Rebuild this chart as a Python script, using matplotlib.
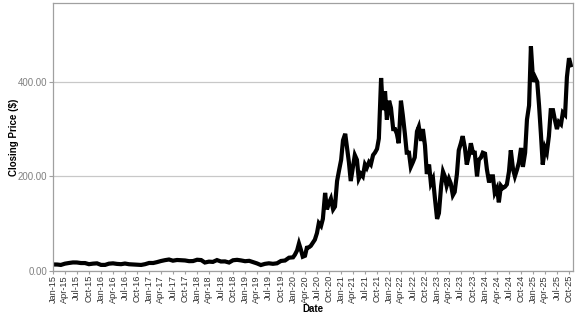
import matplotlib
matplotlib.use("Agg")
import matplotlib.pyplot as plt
import matplotlib.dates as mdates
import numpy as np
import pandas as pd

# monthly closes 2015-2019
early_prices = [
    13.6, 13.5, 12.6, 15.3, 16.7, 17.9, 17.8, 16.6, 16.6, 14.2, 15.4, 16.0,
    12.7, 12.7, 15.3, 16.0, 14.8, 14.2, 15.6, 14.1, 13.6, 13.2, 12.6, 14.2,
    16.8, 16.7, 18.5, 20.9, 22.7, 24.1, 21.6, 23.1, 22.7, 22.1, 20.6, 20.8,
    23.6, 22.9, 17.7, 19.6, 19.0, 22.9, 19.9, 20.1, 17.7, 22.5, 23.4, 22.2,
    20.5, 21.3, 18.7, 15.9, 12.4, 14.9, 16.1, 15.0, 16.1, 21.0, 22.0, 27.9,
]

# twice a month 2020 - Oct 2025
late_prices = [
    # 2020
    28.7, 34.2, 43.4, 58.0, 44.5, 30.0, 32.0, 49.0, 50.0, 53.0, 60.0, 66.0,
    80.0, 101.0, 95.0, 110.0, 165.0, 130.0, 144.0, 153.0, 130.0, 136.0, 190.0, 211.0,
    # 2021
    235.0, 276.0, 290.0, 260.0, 230.0, 190.0, 220.0, 245.0, 235.0, 195.0, 205.0, 200.0,
    225.0, 218.0, 230.0, 225.0, 245.0, 250.0, 258.0, 280.0, 408.0, 340.0, 380.0, 320.0,
    # 2022
    360.0, 345.0, 300.0, 300.0, 290.0, 270.0, 360.0, 330.0, 290.0, 250.0, 250.0, 220.0,
    230.0, 240.0, 295.0, 305.0, 275.0, 300.0, 265.0, 205.0, 225.0, 185.0, 195.0, 155.0,
    # 2023
    110.0, 122.0, 180.0, 210.0, 200.0, 180.0, 195.0, 185.0, 160.0, 167.0, 205.0, 255.0,
    270.0, 285.0, 260.0, 225.0, 245.0, 270.0, 250.0, 250.0, 200.0, 235.0, 240.0, 250.0,
    # 2024
    248.0, 215.0, 187.0, 200.0, 200.0, 165.0, 175.0, 145.0, 180.0, 175.0, 178.0, 183.0,
    210.0, 255.0, 215.0, 200.0, 215.0, 230.0, 260.0, 220.0, 250.0, 320.0, 350.0, 475.0,
    # 2025
    400.0, 410.0, 400.0, 350.0, 290.0, 225.0, 260.0, 250.0, 285.0, 340.0, 340.0, 320.0,
    300.0, 315.0, 310.0, 335.0, 330.0, 410.0, 450.0, 435.0,
]

early_dates = pd.date_range("2015-01-01", periods=len(early_prices), freq="MS")
late_dates = pd.date_range("2020-01-01", periods=len(late_prices), freq="SMS")
dates = list(early_dates) + list(late_dates)
prices = early_prices + late_prices

tick_dates = pd.date_range("2015-01-01", "2025-10-01", freq="QS-JAN")

fig = plt.figure(figsize=(5.77, 3.15), dpi=100)
ax = fig.add_axes([0.092, 0.14, 0.901, 0.851])

ax.plot(dates, prices, color="black", linewidth=3.0, solid_joinstyle="miter")

ax.set_xlim(pd.Timestamp("2015-01-01"), pd.Timestamp("2025-10-31"))
ax.set_ylim(0, 567)

ax.set_yticks([0, 200, 400])
ax.yaxis.set_major_formatter(matplotlib.ticker.FuncFormatter(lambda v, p: f"{v:.2f}"))
ax.set_xticks(tick_dates)
ax.xaxis.set_major_formatter(mdates.DateFormatter("%b-%y"))

ax.grid(axis="y", color="#c8c8c8", linewidth=0.9)
ax.set_axisbelow(True)
for s in ax.spines.values():
    s.set_color("#a0a0a0")
    s.set_linewidth(0.9)

ax.tick_params(axis="y", length=3, color="#a0a0a0", labelsize=7, labelcolor="#808080", pad=1)
ax.tick_params(axis="x", length=2, color="#a0a0a0", labelsize=6.6, labelcolor="#333333",
               rotation=90, pad=1)
for lab in ax.get_xticklabels():
    lab.set_fontfamily("Liberation Sans")
for lab in ax.get_yticklabels():
    lab.set_fontfamily("Liberation Sans")

ax.set_xlabel("Date", fontsize=7, fontweight="bold", family="Liberation Sans")
ax.set_ylabel("Closing Price ($)", fontsize=7, fontweight="bold", family="Liberation Sans")
ax.xaxis.set_label_coords(0.5, -0.122)
ax.yaxis.set_label_coords(-0.066, 0.5)

fig.savefig("out.png", dpi=100)
